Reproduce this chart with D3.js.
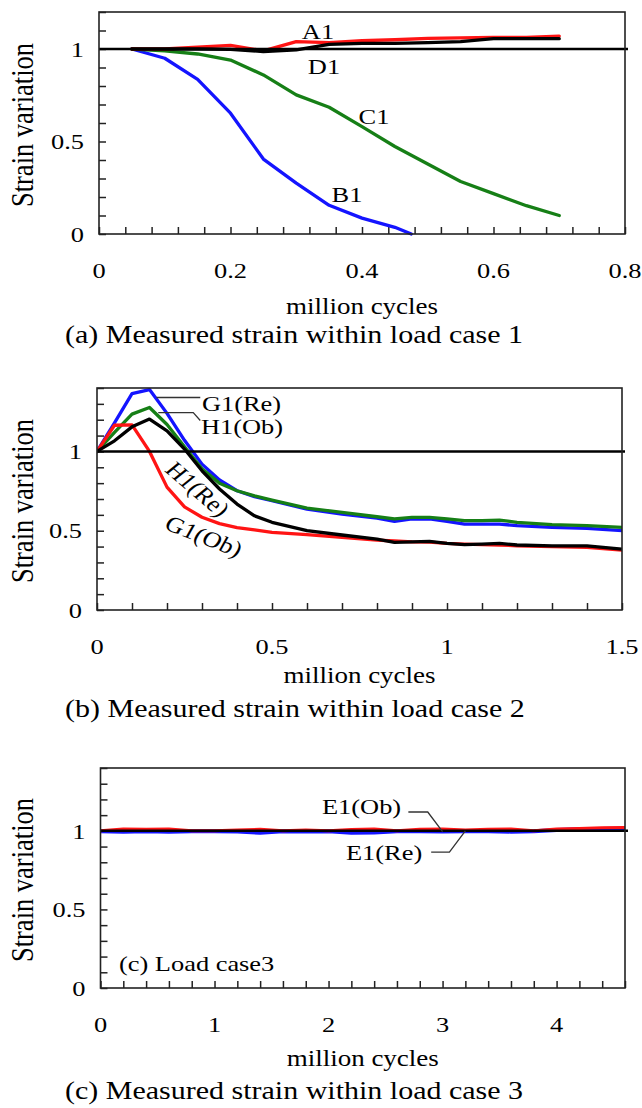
<!DOCTYPE html>
<html><head><meta charset="utf-8">
<script src="https://cdn.jsdelivr.net/npm/d3@7"></script>
<style>html,body{margin:0;padding:0;background:#fff}svg{display:block}</style>
</head><body>
<script>
// ---------- DATA ----------
// Panel (a) load case 1
const xA = [0.05,0.1,0.15,0.2,0.25,0.3,0.35,0.4,0.45,0.5,0.55,0.6,0.65,0.7];
const A1 = [1.0,1.0,1.01,1.02,0.99,1.04,1.035,1.045,1.05,1.057,1.06,1.063,1.063,1.07];
const D1 = [1.0,1.0,1.0,0.998,0.986,0.995,1.025,1.03,1.03,1.034,1.04,1.056,1.056,1.056];
const C1 = [1.0,0.99,0.973,0.94,0.86,0.752,0.685,0.58,0.473,0.378,0.284,0.218,0.153,0.10];
const xB1 = [0.05,0.1,0.15,0.2,0.25,0.3,0.35,0.4,0.45,0.475];
const B1 = [1.0,0.95,0.836,0.653,0.405,0.275,0.155,0.086,0.036,0.0];
const xTickLabelsA = [0,0.2,0.4,0.6,0.8];

// Panel (b) load case 2
const xB = [0,0.05,0.1,0.15,0.2,0.25,0.3,0.35,0.4,0.45,0.5,0.6,0.7,0.8,0.85,0.9,0.95,1.0,1.05,1.1,1.15,1.2,1.3,1.4,1.5];
const G1Re = [1.0,1.18,1.365,1.39,1.24,1.07,0.92,0.82,0.752,0.715,0.689,0.636,0.605,0.58,0.559,0.574,0.574,0.559,0.542,0.542,0.542,0.532,0.521,0.515,0.50];
const H1Ob = [1.0,1.12,1.235,1.277,1.17,1.03,0.89,0.80,0.752,0.72,0.693,0.643,0.615,0.588,0.574,0.584,0.584,0.574,0.563,0.563,0.567,0.553,0.538,0.532,0.521];
const H1Re = [1.0,1.067,1.155,1.204,1.13,1.015,0.878,0.763,0.668,0.594,0.553,0.50,0.473,0.447,0.426,0.43,0.433,0.42,0.412,0.416,0.42,0.41,0.405,0.405,0.384];
const G1Ob = [1.0,1.165,1.168,1.0,0.775,0.65,0.585,0.545,0.52,0.505,0.49,0.475,0.458,0.441,0.435,0.43,0.428,0.42,0.415,0.412,0.41,0.405,0.40,0.395,0.378];
const xTickLabelsB = [0,0.5,1,1.5];

// Panel (c) load case 3
const xC = [0,0.2,0.4,0.6,0.8,1.0,1.2,1.4,1.6,1.8,2.0,2.2,2.4,2.6,2.8,3.0,3.2,3.4,3.6,3.8,4.0,4.2,4.4,4.6];
const E1Ob = [1.0,1.012,1.01,1.012,1.0,1.0,1.005,1.01,1.0,1.005,1.0,1.008,1.012,1.0,1.01,1.012,1.005,1.01,1.012,1.0,1.012,1.015,1.02,1.022];
const E1Re = [0.997,0.995,0.998,0.995,0.997,0.998,0.996,0.988,0.997,0.996,0.998,0.988,0.99,0.997,0.998,0.996,0.998,0.997,0.995,0.998,1.005,1.01,1.012,1.015];
const xTickLabelsC = [0,1,2,3,4];

const yTickLabels = [0,0.5,1];

// ---------- DRAW ----------
const W = 642, H = 1108;
const FONT = "'Liberation Serif','Times New Roman',serif";
const SX = 1.2; // horizontal stretch of the original picture's lettering
const RED = "#ff1414", BLUE = "#1414ff", GREEN = "#167f16", BLACK = "#000";

const svg = d3.select("body").append("svg").attr("width", W).attr("height", H)
  .style("font-family", FONT);

function txt(g, x, yc, s, size, anchor, rot) {
  return g.append("text")
    .attr("transform", `translate(${x},${yc}) scale(${SX},1)` + (rot ? ` rotate(${rot})` : ""))
    .attr("text-anchor", anchor || "middle")
    .attr("dy", "0.35em")
    .attr("font-size", size)
    .attr("fill", "#000")
    .text(s);
}

function panel(cfg) {
  const g = svg.append("g");
  const x = d3.scaleLinear().domain(cfg.xd).range([cfg.l, cfg.r]);
  const y = d3.scaleLinear().domain(cfg.yd).range([cfg.b, cfg.t]);
  const xMinor = d3.range(cfg.xd[0], cfg.xd[1] + 1e-9, cfg.xs).map(v => +v.toFixed(6));
  const yMinor = d3.range(cfg.yd[0], cfg.yd[1] + 1e-9, 0.1).map(v => +v.toFixed(6));

  // inward ticks
  const ax = g.append("g").attr("transform", `translate(0,${cfg.b})`)
    .call(d3.axisBottom(x).tickValues(xMinor).tickSize(-7).tickSizeOuter(0).tickFormat(""));
  const ay = g.append("g").attr("transform", `translate(${cfg.l},0)`)
    .call(d3.axisLeft(y).tickValues(yMinor).tickSize(-7).tickSizeOuter(0).tickFormat(""));
  [ax, ay].forEach(a => { a.select(".domain").remove(); a.selectAll("line").attr("stroke", "#222").attr("stroke-width", 1.5); });

  // tick labels
  cfg.xl.forEach(v => txt(g, x(v), cfg.b + 36, String(v), 22, "middle"));
  yTickLabels.forEach(v => txt(g, cfg.l - 15, y(v), String(v), 22, "end"));

  // lines
  const clipId = "clip" + cfg.id;
  svg.append("clipPath").attr("id", clipId).append("rect")
    .attr("x", cfg.l).attr("y", cfg.t).attr("width", cfg.r - cfg.l).attr("height", cfg.b - cfg.t + 2);
  const lg = g.append("g").attr("clip-path", `url(#${clipId})`);
  const line = d3.line().x(d => x(d[0])).y(d => y(d[1]));
  cfg.series.forEach(s => {
    lg.append("path").datum(s.x.map((xv, i) => [xv, s.y[i]]))
      .attr("d", line).attr("fill", "none").attr("stroke", s.c)
      .attr("stroke-width", s.w || 3.3).attr("stroke-linejoin", "round").attr("stroke-linecap", "round");
  });
  // reference line at 1
  g.append("line").attr("x1", cfg.l).attr("x2", cfg.r + 3).attr("y1", y(1)).attr("y2", y(1))
    .attr("stroke", BLACK).attr("stroke-width", 2.5);

  // frame
  g.append("rect").attr("x", cfg.l).attr("y", cfg.t).attr("width", cfg.r - cfg.l).attr("height", cfg.b - cfg.t)
    .attr("fill", "none").attr("stroke", "#222").attr("stroke-width", 1.6);

  // axis titles
  txt(g, 22, (cfg.t + cfg.b) / 2 + 2, "Strain variation", 26.5, "middle", -90);
  txt(g, (cfg.l + cfg.r) / 2, cfg.titleY, "million cycles", 22.5, "middle");
  txt(g, 65, cfg.capY, cfg.caption, 25, "start");
  return {g, x, y};
}

// Panel (a)
const pa = panel({
  id: "a", l: 99, r: 625, t: 12, b: 234, xd: [0, 0.8], yd: [0, 1.2], xs: 0.04, xl: xTickLabelsA,
  titleY: 306, capY: 334, caption: "(a) Measured strain within load case 1",
  series: [
    {x: xB1, y: B1, c: BLUE},
    {x: xA, y: C1, c: GREEN},
    {x: xA, y: A1, c: RED},
    {x: xA, y: D1, c: BLACK}
  ]
});
txt(pa.g, 318, 31, "A1", 22, "middle");
txt(pa.g, 324, 66, "D1", 22, "middle");
txt(pa.g, 374, 116, "C1", 22, "middle");
txt(pa.g, 347, 194, "B1", 22, "middle");

// Panel (b)
const pb = panel({
  id: "b", l: 97, r: 622, t: 388, b: 610, xd: [0, 1.5], yd: [0, 1.4], xs: 0.1, xl: xTickLabelsB,
  titleY: 675, capY: 708, caption: "(b) Measured strain within load case 2",
  series: [
    {x: xB, y: G1Re, c: BLUE},
    {x: xB, y: H1Ob, c: GREEN},
    {x: xB, y: G1Ob, c: RED},
    {x: xB, y: H1Re, c: BLACK}
  ]
});
const leader = (g, pts) => g.append("path").attr("d", d3.line()(pts)).attr("fill", "none")
  .attr("stroke", "#333").attr("stroke-width", 1.3);
leader(pb.g, [[pb.x(0.17), pb.y(1.34)], [pb.x(0.295), pb.y(1.34)]]);
leader(pb.g, [[pb.x(0.175), pb.y(1.245)], [pb.x(0.275), pb.y(1.245)], [pb.x(0.295), pb.y(1.195)]]);
txt(pb.g, 202, 403, "G1(Re)", 22, "start");
txt(pb.g, 201, 426, "H1(Ob)", 22, "start");
txt(pb.g, 198, 489, "H1(Re)", 22, "middle", 46);
txt(pb.g, 204, 536, "G1(Ob)", 22, "middle", 25);

// Panel (c)
const pc = panel({
  id: "c", l: 100.5, r: 625, t: 768, b: 988, xd: [0, 4.6], yd: [0, 1.4], xs: 0.2, xl: xTickLabelsC,
  titleY: 1058, capY: 1090, caption: "(c) Measured strain within load case 3",
  series: [
    {x: xC, y: E1Re, c: BLUE, w: 4},
    {x: xC, y: E1Ob, c: RED, w: 3}
  ]
});
leader(pc.g, [[pc.x(2.7), pc.y(1.12)], [pc.x(2.87), pc.y(1.12)], [pc.x(3.0), pc.y(0.995)]]);
leader(pc.g, [[pc.x(2.9), pc.y(0.865)], [pc.x(3.06), pc.y(0.865)], [pc.x(3.2), pc.y(1.0)]]);
txt(pc.g, 322, 806, "E1(Ob)", 22, "start");
txt(pc.g, 346, 852, "E1(Re)", 22, "start");
txt(pc.g, 119, 963, "(c) Load case3", 22, "start");
</script>
</body></html>
